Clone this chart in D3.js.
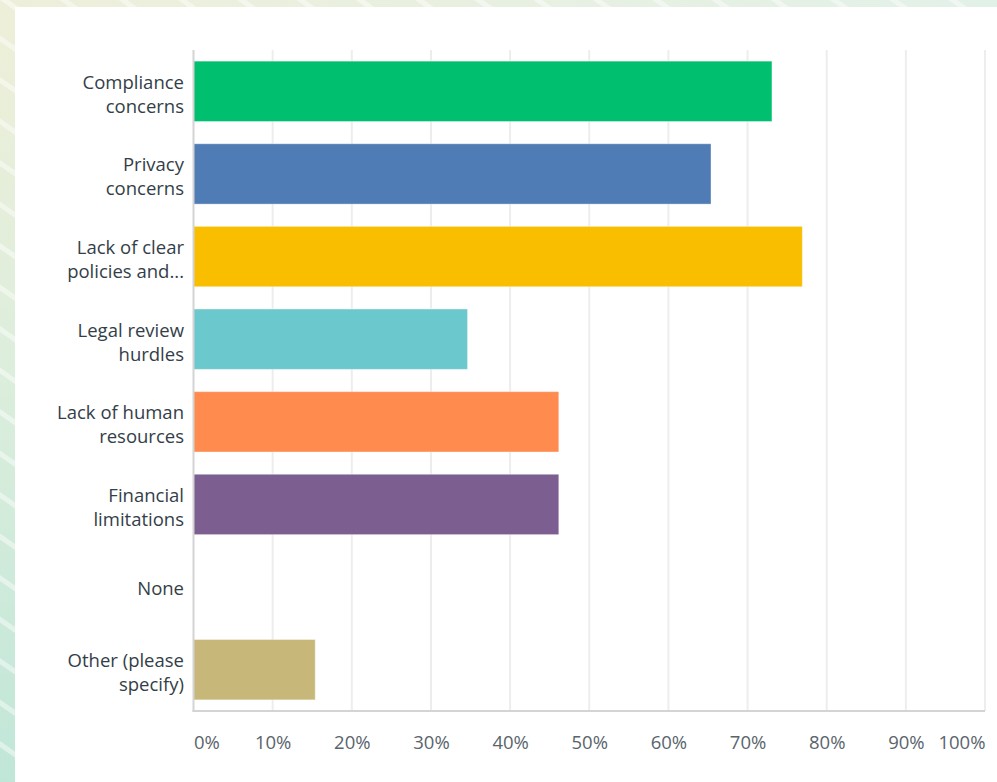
<!DOCTYPE html>
<html>
<head>
<meta charset="utf-8">
<script src="https://cdn.jsdelivr.net/npm/d3@7"></script>
<style>
  html, body { margin: 0; padding: 0; background: #fff; }
  svg { display: block; }
</style>
</head>
<body>
<svg id="chart" width="997" height="782"></svg>
<script>
// Survey answers (26 respondents), share of respondents per choice
const categories = [
  ["Compliance", "concerns"],
  ["Privacy", "concerns"],
  ["Lack of clear", "policies and..."],
  ["Legal review", "hurdles"],
  ["Lack of human", "resources"],
  ["Financial", "limitations"],
  ["None"],
  ["Other (please", "specify)"]
];
const values = [73.08, 65.38, 76.92, 34.62, 46.15, 46.15, 0, 15.38];
const colors = ["#00BF6F", "#507CB6", "#F9BE00", "#6BC8CD", "#FF8B4F", "#7D5E90", "#D25F90", "#C7B879"];
const tickValues = [0, 10, 20, 30, 40, 50, 60, 70, 80, 90, 100];

const svg = d3.select("#chart");
const W = 997, H = 782;
const font = "'Open Sans', sans-serif";

// Backdrop: soft gradient with diagonal light streaks
const defs = svg.append("defs");
const bg = defs.append("linearGradient").attr("id", "bg")
  .attr("x1", 0).attr("y1", 0).attr("x2", 0.15).attr("y2", 1);
bg.append("stop").attr("offset", "0%").attr("stop-color", "#EFEFD8");
bg.append("stop").attr("offset", "45%").attr("stop-color", "#DDEEDC");
bg.append("stop").attr("offset", "100%").attr("stop-color", "#BFE6D8");
const topBg = defs.append("linearGradient").attr("id", "topbg")
  .attr("x1", 0).attr("y1", 0).attr("x2", 1).attr("y2", 0);
topBg.append("stop").attr("offset", "0%").attr("stop-color", "#EEEFDA");
topBg.append("stop").attr("offset", "100%").attr("stop-color", "#E2F1E8");
const stripes = defs.append("pattern").attr("id", "stripes")
  .attr("patternUnits", "userSpaceOnUse").attr("width", 34).attr("height", 34)
  .attr("patternTransform", "rotate(-55)");
stripes.append("rect").attr("width", 5).attr("height", 34).attr("fill", "#ffffff").attr("opacity", 0.45);

svg.append("rect").attr("width", W).attr("height", H).attr("fill", "url(#bg)");
svg.append("rect").attr("width", W).attr("height", 8).attr("fill", "url(#topbg)");
svg.append("rect").attr("width", W).attr("height", H).attr("fill", "url(#stripes)");

// White card
svg.append("rect").attr("x", 15).attr("y", 7).attr("width", W - 15).attr("height", H - 7).attr("fill", "#ffffff");

const x0 = 193.5, x1 = 985, yTop = 50, yBot = 711;
const x = d3.scaleLinear().domain([0, 100]).range([x0, x1]);
const y = d3.scaleBand().domain(d3.range(categories.length)).range([yTop, yBot])
  .paddingInner(0.27).paddingOuter(0.135);

const g = svg.append("g");

// Vertical gridlines
g.append("g").selectAll("line").data(tickValues.slice(1)).join("line")
  .attr("x1", d => x(d)).attr("x2", d => x(d))
  .attr("y1", yTop).attr("y2", yBot)
  .attr("stroke", "#EDEDED").attr("stroke-width", 2);

// Bars
g.append("g").selectAll("rect").data(values).join("rect")
  .attr("x", x(0))
  .attr("y", (d, i) => y(i))
  .attr("width", d => x(d) - x(0))
  .attr("height", y.bandwidth())
  .attr("fill", (d, i) => colors[i])
  .attr("stroke", "#ffffff").attr("stroke-opacity", 0.35).attr("stroke-width", 1)
  .attr("display", d => d > 0 ? null : "none");

// Axis lines
g.append("line").attr("x1", x0).attr("x2", x0).attr("y1", yTop).attr("y2", yBot + 1)
  .attr("stroke", "#D4D4D4").attr("stroke-width", 2);
g.append("line").attr("x1", x0 - 1).attr("x2", x1).attr("y1", yBot).attr("y2", yBot)
  .attr("stroke", "#D4D4D4").attr("stroke-width", 2);

// Category labels
const lab = g.append("g").selectAll("text").data(categories).join("text")
  .attr("text-anchor", "end")
  .attr("font-family", font).attr("font-size", 18.5)
  .attr("fill", "#333E48");
lab.each(function(lines, i) {
  const c = y(i) + y.bandwidth() / 2;
  const t = d3.select(this);
  if (lines.length === 1) {
    t.append("tspan").attr("x", 184).attr("y", c + 8).text(lines[0]);
  } else {
    lines.forEach((s, k) => t.append("tspan").attr("x", 184).attr("y", c - 2.5 + 24 * k).text(s));
  }
});

// Tick labels along the bottom
const xAxis = d3.axisBottom(x).tickValues(tickValues).tickFormat(d => d + "%").tickSize(0).tickPadding(0);
const ax = g.append("g").attr("transform", `translate(0, 749)`).call(xAxis);
ax.select(".domain").remove();
ax.selectAll("text")
  .attr("y", 0).attr("dy", 0)
  .attr("font-family", font).attr("font-size", 18.5).attr("fill", "#5A646C")
  .attr("text-anchor", d => d === 0 ? "start" : d === 100 ? "end" : "middle");
</script>
</body>
</html>
